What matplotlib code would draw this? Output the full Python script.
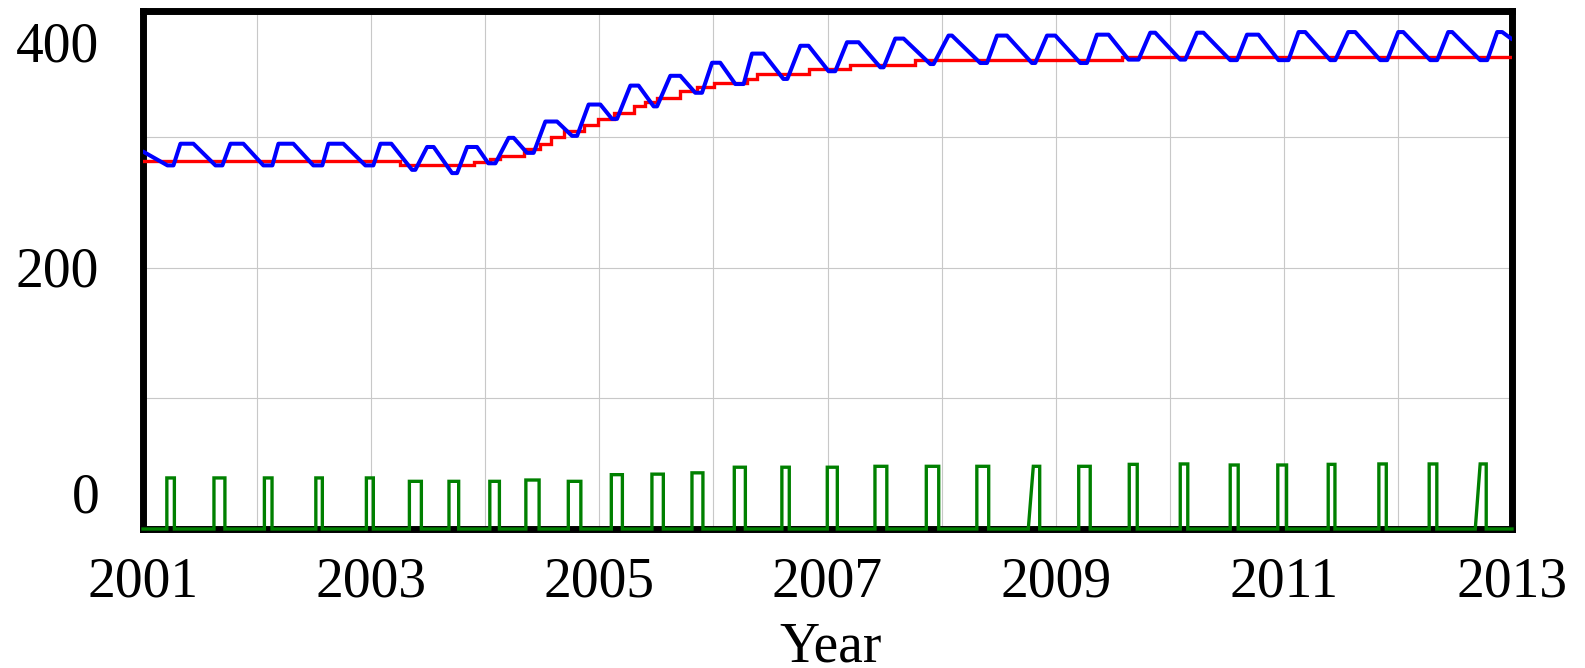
import matplotlib
matplotlib.use("Agg")
import matplotlib.pyplot as plt
import matplotlib.transforms as mtransforms

plt.rcParams['font.family'] = ['Liberation Serif', 'DejaVu Serif']

# ---------------- data ----------------
# Blue series (inventory): vertices (time, value)
blue_t = [2001.000,
          2001.214, 2001.267, 2001.328, 2001.442,
          2001.635, 2001.696, 2001.766, 2001.880,
          2002.055, 2002.134, 2002.187, 2002.318,
          2002.493, 2002.572, 2002.625, 2002.756,
          2002.949, 2003.019, 2003.081, 2003.177,
          2003.358, 2003.387, 2003.490, 2003.548,
          2003.709, 2003.753, 2003.841, 2003.928,
          2004.027, 2004.089, 2004.205, 2004.249,
          2004.366, 2004.424, 2004.527, 2004.629,
          2004.761, 2004.805, 2004.906, 2005.009,
          2005.111, 2005.155, 2005.272, 2005.344,
          2005.476, 2005.506, 2005.622, 2005.710,
          2005.841, 2005.900, 2005.988, 2006.060,
          2006.192, 2006.265, 2006.338, 2006.440,
          2006.613, 2006.648, 2006.762, 2006.834,
          2007.010, 2007.068, 2007.171, 2007.273,
          2007.463, 2007.492, 2007.594, 2007.667,
          2007.901, 2007.930, 2008.061, 2008.091,
          2008.339, 2008.398, 2008.486, 2008.573,
          2008.792, 2008.821, 2008.924, 2008.997,
          2009.216, 2009.274, 2009.362, 2009.464,
          2009.639, 2009.727, 2009.829, 2009.873,
          2010.092, 2010.136, 2010.238, 2010.296,
          2010.530, 2010.589, 2010.677, 2010.778,
          2010.954, 2011.041, 2011.129, 2011.188,
          2011.407, 2011.451, 2011.564, 2011.626,
          2011.845, 2011.906, 2012.003, 2012.047,
          2012.283, 2012.344, 2012.441, 2012.476,
          2012.721, 2012.783, 2012.870, 2012.914,
          2013.000]
blue_v = [289,
          278.4, 278.4, 295, 295,
          278.4, 278.4, 295, 295,
          278.4, 278.4, 295, 295,
          278.4, 278.4, 295, 295,
          278.4, 278.4, 295, 295,
          275, 275, 292.5, 292.5,
          272.5, 272.5, 292.5, 292.5,
          280, 280, 299.5, 299.5,
          288, 288, 312, 312,
          301, 301, 325, 325,
          314, 314, 339.5, 339.5,
          323.6, 323.6, 347, 347,
          334, 334, 357, 357,
          340.7, 340.7, 364, 364,
          344.6, 344.6, 370, 370,
          350.5, 350.5, 372.7, 372.7,
          353.5, 353.5, 375.5, 375.5,
          356, 356, 377.8, 377.8,
          356.8, 356.8, 377.8, 377.8,
          356.8, 356.8, 377.8, 377.8,
          356.8, 356.8, 378.5, 378.5,
          359.4, 359.4, 380, 380,
          359.4, 359.4, 380, 380,
          359, 359, 378.5, 378.5,
          359, 359, 380.5, 380.5,
          359, 359, 380.5, 380.5,
          359, 359, 380.5, 380.5,
          359, 359, 380.5, 380.5,
          359, 359, 380.5, 380.5,
          375]

# Red series (desired inventory): step changes (time, value)
red_t = [2001.000, 2003.256, 2003.898, 2004.045, 2004.132, 2004.337, 2004.483,
         2004.579, 2004.687, 2004.862, 2004.991, 2005.125, 2005.301, 2005.403,
         2005.506, 2005.710, 2005.859, 2006.002, 2006.295, 2006.382, 2006.834,
         2007.200, 2007.770, 2009.581, 2013.000]
red_v = [281.5, 278.4, 280.7, 283.3, 285.8, 291, 294.8,
         300, 305, 309.6, 314, 318.5, 323.6, 327,
         330, 335, 338.5, 341.5, 344.6, 348, 352,
         355.6, 358.9, 361.4, 361.4]

# Green series (deliveries): pulses
g_on = [2001.209, 2001.622, 2002.064, 2002.515, 2002.958, 2003.335, 2003.682,
        2004.040, 2004.356, 2004.728, 2005.105, 2005.461, 2005.812, 2006.183,
        2006.600, 2006.998, 2007.416, 2007.866, 2008.309, 2008.760, 2009.202,
        2009.645, 2010.092, 2010.530, 2010.947, 2011.389, 2011.833, 2012.274,
        2012.678]
g_top = [2001.209, 2001.622, 2002.064, 2002.515, 2002.958, 2003.335, 2003.682,
         2004.040, 2004.356, 2004.728, 2005.105, 2005.461, 2005.812, 2006.183,
         2006.600, 2006.998, 2007.416, 2007.866, 2008.309, 2008.804, 2009.202,
         2009.645, 2010.092, 2010.530, 2010.947, 2011.389, 2011.833, 2012.274,
         2012.721]
g_off = [2001.275, 2001.718, 2002.131, 2002.572, 2003.019, 2003.440, 2003.767,
         2004.124, 2004.472, 2004.838, 2005.202, 2005.561, 2005.908, 2006.280,
         2006.665, 2007.086, 2007.520, 2007.975, 2008.413, 2008.860, 2009.303,
         2009.715, 2010.158, 2010.600, 2011.024, 2011.448, 2011.898, 2012.341,
         2012.774]
g_h = [39.1, 39.1, 39.1, 39.1, 39.1, 36.5, 36.5,
       36.5, 37.5, 36.5, 41.6, 42, 43, 47.3,
       47.3, 47.3, 48, 48, 48, 48, 48,
       49.5, 49.8, 49, 49, 49.5, 49.8, 49.8,
       49.8]

x_ticks = list(range(2001, 2014))
x_labels = [str(y) if (y - 2001) % 2 == 0 else "" for y in x_ticks]
y_grid = [100, 200, 300]
y_labels = ["400", "200", "0"]
y_label_vals = [357.9, 185.4, 13.0]   # baselines of the Vensim-style labels
x_title = "Year"

# ---------------- figure ----------------
W, H = 1585, 668
fig = plt.figure(figsize=(W / 100, H / 100), dpi=100)
ax = fig.add_axes([143 / W, (H - 529) / H, (1512 - 143) / W, (529 - 10.5) / H])
ax.set_xlim(2001, 2013)
ax.set_ylim(0, 397)

ax.set_xticks(x_ticks)
ax.set_xticklabels(x_labels)
ax.set_yticks(y_grid)
ax.set_yticklabels([])
ax.tick_params(axis='both', length=0)
ax.tick_params(axis='x', pad=20, labelsize=40)
ax.grid(True, color='#c8c8c8', linewidth=0.8)
ax.set_axisbelow(True)

for s in ax.spines.values():
    s.set_linewidth(5)
    s.set_color('black')
    s.set_capstyle('projecting')

# green pulses vertices
gx, gy = [2001.0], [0.0]
for on, top, off, h in zip(g_on, g_top, g_off, g_h):
    gx += [on, top, off, off]
    gy += [0.0, h, h, 0.0]
gx.append(2013.0)
gy.append(0.0)

ax.plot(red_t, red_v, color='#ff0000', lw=2.4, drawstyle='steps-post',
        zorder=3, solid_joinstyle='miter')
ax.plot(blue_t, blue_v, color='#0000ff', lw=2.9, zorder=4,
        solid_joinstyle='round', solid_capstyle='round')
ax.plot(gx, gy, color='#008000', lw=2.4, zorder=5, clip_on=False,
        solid_joinstyle='miter')

trans = mtransforms.blended_transform_factory(ax.transAxes, ax.transData)
for lab, v in zip(y_labels, y_label_vals):
    ax.text(-0.032, v, lab, transform=trans, ha='right', va='baseline',
            fontsize=40)

ax.text(0.502, -0.2555, x_title, transform=ax.transAxes, ha='center',
        va='baseline', fontsize=40)

fig.savefig("out.png", dpi=100)
